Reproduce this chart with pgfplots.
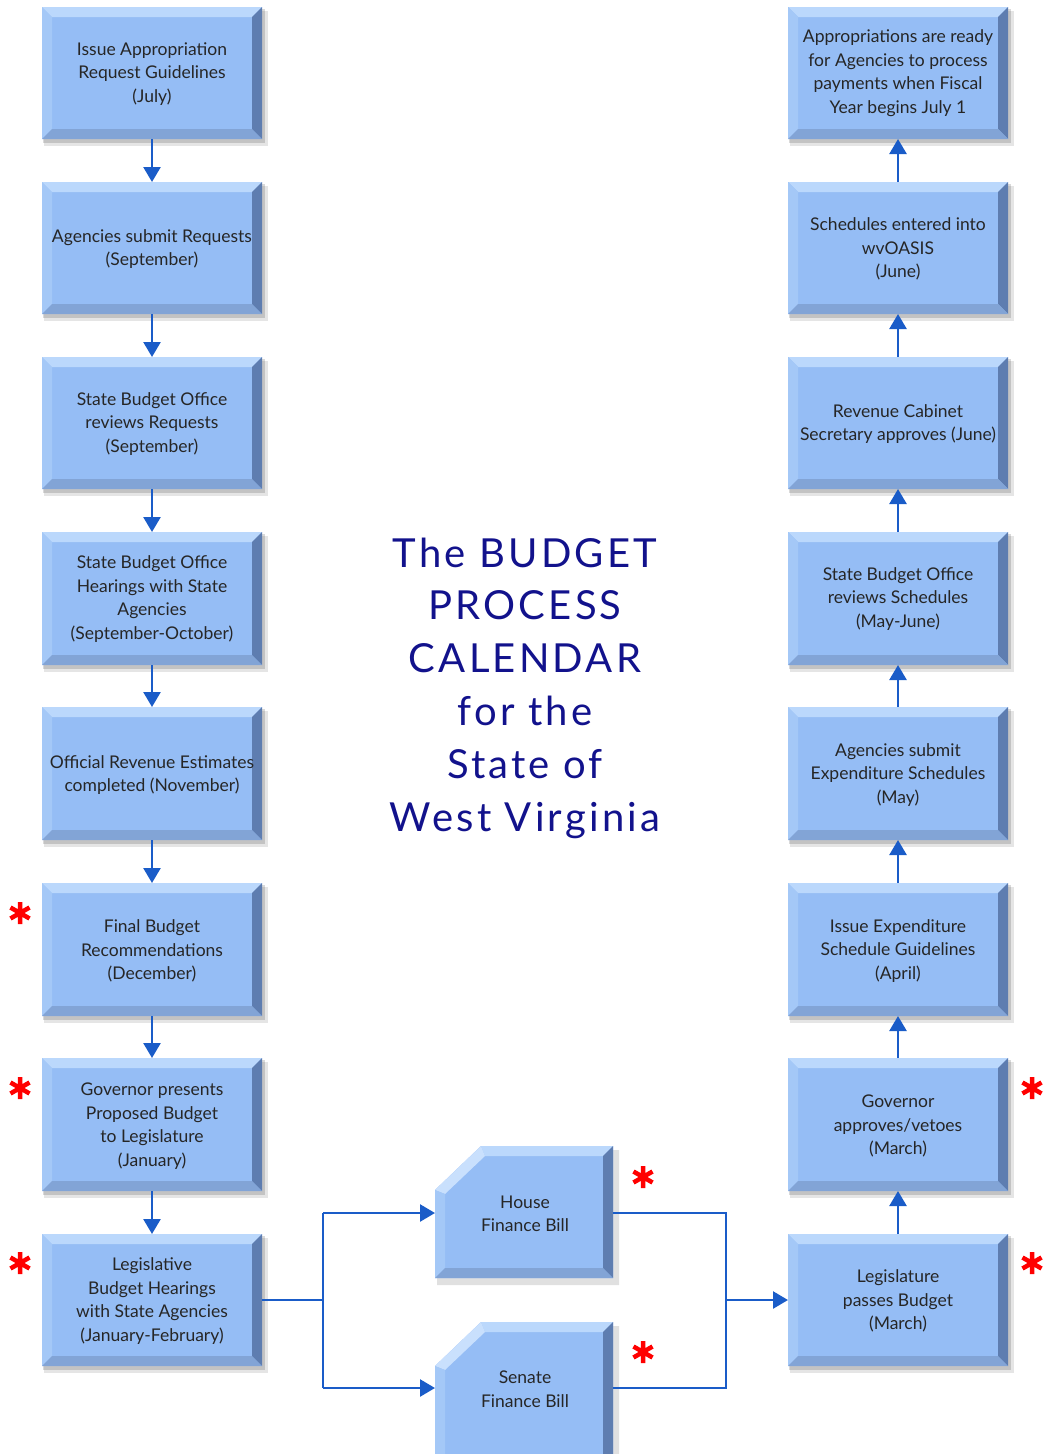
\documentclass[border=0pt]{standalone}
\usepackage{pgfplots}
\pgfplotsset{compat=1.18}
\usepackage{fontspec}
\setmainfont{Lato}
\usetikzlibrary{arrows.meta}
\definecolor{boxmain}{HTML}{95BDF5}
\definecolor{boxtop}{HTML}{BBD8FC}
\definecolor{boxleft}{HTML}{A4C8F7}
\definecolor{boxright}{HTML}{5E7DB0}
\definecolor{boxbot}{HTML}{82A4D6}
\definecolor{arrowc}{HTML}{1A5CC8}
\definecolor{titlec}{HTML}{12128C}
\definecolor{txtc}{HTML}{262626}
\tikzset{
  boxtext/.style={font=\fontsize{17.5}{23.5}\selectfont, text=txtc, align=center},
  arr/.style={arrowc, line width=2.5pt},
  arrh/.style={arrowc, line width=2.5pt, -{Triangle[width=17pt,length=15pt]}}}
\newcommand{\bevbox}[4]{%
\pgfmathsetmacro\Xa{#1}\pgfmathsetmacro\Ya{#2}\pgfmathsetmacro\Xb{#3}\pgfmathsetmacro\Yb{#4}%
\pgfmathsetmacro\Xai{#1+10}\pgfmathsetmacro\Yai{#2+10}\pgfmathsetmacro\Xbi{#3-10}\pgfmathsetmacro\Ybi{#4-10}%
\pgfmathsetmacro\Sa{#1+2}\pgfmathsetmacro\Sb{#2+4}\pgfmathsetmacro\Sc{#3+6}\pgfmathsetmacro\Sd{#4+7}%
\pgfmathsetmacro\Ta{#1+1}\pgfmathsetmacro\Tb{#2+2}\pgfmathsetmacro\Tc{#3+3}\pgfmathsetmacro\Td{#4+4}%
\edef\temp{%
\noexpand\addplot[draw=none,fill=black,fill opacity=0.10,forget plot] coordinates {(\Sa,\Sb) (\Sc,\Sb) (\Sc,\Sd) (\Sa,\Sd)};
\noexpand\addplot[draw=none,fill=black,fill opacity=0.15,forget plot] coordinates {(\Ta,\Tb) (\Tc,\Tb) (\Tc,\Td) (\Ta,\Td)};
\noexpand\addplot[draw=none,fill=boxmain,forget plot] coordinates {(\Xa,\Ya) (\Xb,\Ya) (\Xb,\Yb) (\Xa,\Yb)};
\noexpand\addplot[draw=none,fill=boxtop,forget plot] coordinates {(\Xa,\Ya) (\Xb,\Ya) (\Xbi,\Yai) (\Xai,\Yai)};
\noexpand\addplot[draw=none,fill=boxleft,forget plot] coordinates {(\Xa,\Ya) (\Xai,\Yai) (\Xai,\Ybi) (\Xa,\Yb)};
\noexpand\addplot[draw=none,fill=boxright,forget plot] coordinates {(\Xb,\Ya) (\Xb,\Yb) (\Xbi,\Ybi) (\Xbi,\Yai)};
\noexpand\addplot[draw=none,fill=boxbot,forget plot] coordinates {(\Xa,\Yb) (\Xb,\Yb) (\Xbi,\Ybi) (\Xai,\Ybi)};
}\temp}
\newcommand{\chambox}[4]{%
\pgfmathsetmacro\Xa{#1}\pgfmathsetmacro\Ya{#2}\pgfmathsetmacro\Xb{#3}\pgfmathsetmacro\Yb{#4}%
\pgfmathsetmacro\Xai{#1+10}\pgfmathsetmacro\Yai{#2+10}\pgfmathsetmacro\Xbi{#3-10}\pgfmathsetmacro\Ybi{#4-10}%
\pgfmathsetmacro\Cx{#1+46}\pgfmathsetmacro\Cy{#2+44}\pgfmathsetmacro\Cxi{#1+50}\pgfmathsetmacro\Cyi{#2+48}%
\pgfmathsetmacro\Sa{#1+2}\pgfmathsetmacro\Sb{#2+4}\pgfmathsetmacro\Sc{#3+6}\pgfmathsetmacro\Sd{#4+7}%
\pgfmathsetmacro\SCx{#1+48}\pgfmathsetmacro\SCy{#2+48}%
\edef\temp{%
\noexpand\addplot[draw=none,fill=black,fill opacity=0.12,forget plot] coordinates {(\Sa,\SCy) (\SCx,\Sb) (\Sc,\Sb) (\Sc,\Sd) (\Sa,\Sd)};
\noexpand\addplot[draw=none,fill=boxmain,forget plot] coordinates {(\Xa,\Cy) (\Cx,\Ya) (\Xb,\Ya) (\Xb,\Yb) (\Xa,\Yb)};
\noexpand\addplot[draw=none,fill=boxtop,forget plot] coordinates {(\Cx,\Ya) (\Xb,\Ya) (\Xbi,\Yai) (\Cxi,\Yai)};
\noexpand\addplot[draw=none,fill=boxtop!80!white,forget plot] coordinates {(\Xa,\Cy) (\Cx,\Ya) (\Cxi,\Yai) (\Xai,\Cyi)};
\noexpand\addplot[draw=none,fill=boxleft,forget plot] coordinates {(\Xa,\Cy) (\Xai,\Cyi) (\Xai,\Ybi) (\Xa,\Yb)};
\noexpand\addplot[draw=none,fill=boxright,forget plot] coordinates {(\Xb,\Ya) (\Xb,\Yb) (\Xbi,\Ybi) (\Xbi,\Yai)};
\noexpand\addplot[draw=none,fill=boxbot,forget plot] coordinates {(\Xa,\Yb) (\Xb,\Yb) (\Xbi,\Ybi) (\Xai,\Ybi)};
}\temp}
\begin{document}
\begin{tikzpicture}
\begin{axis}[scale only axis, width=1042pt, height=1454pt,
  xmin=0, xmax=1042, ymin=0, ymax=1454, y dir=reverse,
  axis lines=none, clip=true]
\addplot[draw=none, forget plot] coordinates {(0,0) (1042,1454)};
% left column
\bevbox{42}{7}{262}{139}
\bevbox{42}{182}{262}{314}
\bevbox{42}{357}{262}{489}
\bevbox{42}{532}{262}{665}
\bevbox{42}{707}{262}{840}
\bevbox{42}{883}{262}{1016}
\bevbox{42}{1058}{262}{1191}
\bevbox{42}{1234}{262}{1366}
% right column
\bevbox{788}{7}{1008}{139}
\bevbox{788}{182}{1008}{314}
\bevbox{788}{357}{1008}{489}
\bevbox{788}{532}{1008}{665}
\bevbox{788}{707}{1008}{840}
\bevbox{788}{883}{1008}{1016}
\bevbox{788}{1058}{1008}{1191}
\bevbox{788}{1234}{1008}{1366}
% middle
\chambox{435}{1146}{613}{1278}
\chambox{435}{1322}{613}{1464}
% left arrows
\addplot[arrh, forget plot] coordinates {(152,139) (152,182)};
\addplot[arrh, forget plot] coordinates {(152,314) (152,357)};
\addplot[arrh, forget plot] coordinates {(152,489) (152,532)};
\addplot[arrh, forget plot] coordinates {(152,665) (152,707)};
\addplot[arrh, forget plot] coordinates {(152,840) (152,883)};
\addplot[arrh, forget plot] coordinates {(152,1016) (152,1058)};
\addplot[arrh, forget plot] coordinates {(152,1191) (152,1234)};
% right arrows
\addplot[arrh, forget plot] coordinates {(898,182) (898,139)};
\addplot[arrh, forget plot] coordinates {(898,357) (898,314)};
\addplot[arrh, forget plot] coordinates {(898,532) (898,489)};
\addplot[arrh, forget plot] coordinates {(898,707) (898,665)};
\addplot[arrh, forget plot] coordinates {(898,883) (898,840)};
\addplot[arrh, forget plot] coordinates {(898,1058) (898,1016)};
\addplot[arrh, forget plot] coordinates {(898,1234) (898,1191)};
% connectors
\addplot[arr, forget plot] coordinates {(262,1300) (323,1300)};
\addplot[arr, forget plot] coordinates {(323,1213) (323,1388)};
\addplot[arrh, forget plot] coordinates {(323,1213) (435,1213)};
\addplot[arrh, forget plot] coordinates {(323,1388) (435,1388)};
\addplot[arr, forget plot] coordinates {(613,1213) (726,1213) (726,1388) (613,1388)};
\addplot[arrh, forget plot] coordinates {(726,1300) (788,1300)};
% asterisks
\addplot[only marks, mark=asterisk, mark size=11pt, color=red, mark options={line width=4.5pt}, forget plot]
  coordinates {(20,913) (20,1088) (20,1263) (1032,1088) (1032,1263) (643,1177) (643,1352)};
% box texts left
\node[boxtext] at (axis cs:152,74) {Issue Appropriation\\Request Guidelines\\(July)};
\node[boxtext] at (axis cs:152,249) {Agencies submit Requests\\(September)};
\node[boxtext] at (axis cs:152,424) {State Budget Office\\reviews Requests\\(September)};
\node[boxtext] at (axis cs:152,599) {State Budget Office\\Hearings with State\\Agencies\\(September-October)};
\node[boxtext] at (axis cs:152,775) {Official Revenue Estimates\\completed (November)};
\node[boxtext] at (axis cs:152,951) {Final Budget\\Recommendations\\(December)};
\node[boxtext] at (axis cs:152,1126) {Governor presents\\Proposed Budget\\to Legislature\\(January)};
\node[boxtext] at (axis cs:152,1301) {Legislative\\Budget Hearings\\with State Agencies\\(January-February)};
% box texts right
\node[boxtext] at (axis cs:898,73) {Appropriations are ready\\for Agencies to process\\payments when Fiscal\\Year begins July 1};
\node[boxtext] at (axis cs:898,249) {Schedules entered into\\wvOASIS\\(June)};
\node[boxtext] at (axis cs:898,424) {Revenue Cabinet\\Secretary approves (June)};
\node[boxtext] at (axis cs:898,599) {State Budget Office\\reviews Schedules\\(May-June)};
\node[boxtext] at (axis cs:898,775) {Agencies submit\\Expenditure Schedules\\(May)};
\node[boxtext] at (axis cs:898,951) {Issue Expenditure\\Schedule Guidelines\\(April)};
\node[boxtext] at (axis cs:898,1126) {Governor\\approves/vetoes\\(March)};
\node[boxtext] at (axis cs:898,1301) {Legislature\\passes Budget\\(March)};
% middle
\node[boxtext] at (axis cs:525,1214) {House\\Finance Bill};
\node[boxtext] at (axis cs:525,1389) {Senate\\Finance Bill};
% title
\node[font=\fontsize{40}{52.8}\selectfont\addfontfeatures{LetterSpace=8}, text=titlec, align=center] at (axis cs:525,688)
 {The BUDGET\\PROCESS\\CALENDAR\\for the\\State of\\West Virginia};
\end{axis}
\end{tikzpicture}
\end{document}
